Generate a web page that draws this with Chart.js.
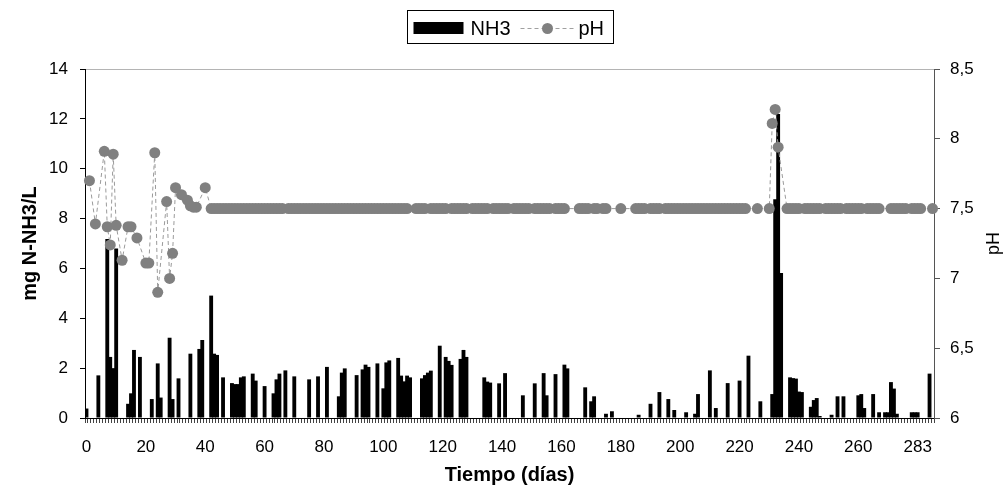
<!DOCTYPE html>
<html>
<head>
<meta charset="utf-8">
<script src="https://cdn.jsdelivr.net/npm/chart.js@4.4.0/dist/chart.umd.min.js"></script>
<style>
  html, body { margin: 0; padding: 0; background: #fff; }
</style>
</head>
<body>
<canvas id="nh3-chart" width="1004" height="489"></canvas>
<script>
const _ = null;

// NH3 (mg N-NH3/L), one slot per day, 10 per row
const nh3 = [
  0.38, _, _, _, 1.71, _, _, 7.18, 2.45, 2.00,
  6.80, _, _, _, 0.57, 0.99, 2.73, _, 2.45, _,
  _, _, 0.76, _, 2.19, 0.82, _, _, 3.22, 0.76,
  _, 1.59, _, _, _, 2.58, _, _, 2.77, 3.13,
  _, _, 4.91, 2.58, 2.53, _, 1.63, _, _, 1.40,
  1.36, 1.36, 1.63, 1.67, _, _, 1.78, 1.50, _, _,
  1.28, _, _, 0.99, 1.55, 1.78, _, 1.91, _, _,
  1.67, _, _, _, _, 1.55, _, _, 1.67, _,
  _, 2.05, _, _, _, 0.87, 1.82, 1.99, _, _,
  _, 1.72, _, 1.95, 2.14, 2.05, _, _, 2.19, _,
  1.19, 2.23, 2.31, _, _, 2.41, 1.70, 1.47, 1.70, 1.63,
  _, _, _, 1.59, 1.72, 1.82, 1.90, _, _, 2.90,
  _, 2.45, 2.29, 2.13, _, _, 2.37, 2.73, 2.45, _,
  _, _, _, _, 1.63, 1.46, 1.42, _, _, 1.39,
  _, 1.80, _, _, _, _, _, 0.91, _, _,
  _, 1.39, _, _, 1.80, 0.91, _, _, 1.76, _,
  _, 2.14, 1.99, _, _, _, _, _, 1.23, _,
  0.67, 0.87, _, _, _, 0.17, _, 0.27, _, _,
  _, _, _, _, _, _, 0.13, _, _, _,
  0.57, _, _, 1.04, _, _, 0.76, _, 0.32, _,
  _, _, 0.23, _, _, 0.17, 0.96, _, _, _,
  1.91, _, 0.40, _, _, _, 1.40, _, _, _,
  1.50, _, _, 2.50, _, _, _, 0.67, _, _,
  _, 0.96, 8.78, 12.19, 5.82, _, _, 1.63, 1.60, 1.58,
  1.06, 1.04, _, _, 0.45, 0.72, 0.80, 0.08, _, _,
  _, 0.13, _, 0.87, _, 0.87, _, _, _, _,
  0.91, 0.96, 0.40, _, _, 0.96, _, 0.23, _, 0.23,
  0.23, 1.44, 1.18, 0.17, _, _, _, _, 0.23, 0.23,
  0.23, _, _, _, 1.78, _
];

// pH, same day slots
const ph = [
  _, 7.70, _, 7.39, _, _, 7.91, 7.37, 7.24, 7.89,
  7.38, _, 7.13, _, 7.37, 7.37, _, 7.29, _, _,
  7.11, 7.11, _, 7.90, 6.90, _, _, 7.55, 7.00, 7.18,
  7.65, _, 7.60, _, 7.56, 7.52, 7.51, 7.51, _, _,
  7.65, _, 7.5, 7.5, 7.5, 7.5, 7.5, 7.5, 7.5, 7.5,
  7.5, 7.5, 7.5, 7.5, 7.5, 7.5, 7.5, 7.5, 7.5, 7.5,
  7.5, 7.5, 7.5, 7.5, 7.5, 7.5, 7.5, _, 7.5, 7.5,
  7.5, 7.5, 7.5, 7.5, 7.5, 7.5, 7.5, 7.5, 7.5, 7.5,
  7.5, 7.5, 7.5, 7.5, 7.5, 7.5, 7.5, 7.5, 7.5, 7.5,
  7.5, 7.5, 7.5, 7.5, 7.5, 7.5, 7.5, 7.5, 7.5, 7.5,
  7.5, 7.5, 7.5, 7.5, 7.5, 7.5, 7.5, 7.5, 7.5, _,
  _, 7.5, 7.5, 7.5, 7.5, _, 7.5, 7.5, 7.5, 7.5,
  7.5, 7.5, _, 7.5, 7.5, 7.5, 7.5, 7.5, 7.5, _,
  7.5, 7.5, 7.5, 7.5, 7.5, 7.5, _, 7.5, 7.5, 7.5,
  7.5, 7.5, 7.5, _, 7.5, 7.5, 7.5, 7.5, 7.5, 7.5,
  _, 7.5, 7.5, 7.5, 7.5, 7.5, 7.5, _, 7.5, 7.5,
  7.5, 7.5, _, _, _, _, 7.5, 7.5, 7.5, 7.5,
  _, 7.5, 7.5, _, 7.5, 7.5, _, _, _, _,
  7.5, _, _, _, _, 7.5, 7.5, 7.5, 7.5, _,
  7.5, 7.5, 7.5, 7.5, _, 7.5, 7.5, 7.5, 7.5, 7.5,
  7.5, 7.5, 7.5, 7.5, 7.5, 7.5, 7.5, 7.5, 7.5, 7.5,
  7.5, 7.5, 7.5, 7.5, 7.5, 7.5, 7.5, 7.5, 7.5, 7.5,
  7.5, 7.5, 7.5, _, _, _, 7.5, _, _, _,
  7.5, 8.11, 8.21, 7.94, _, _, 7.5, 7.5, 7.5, 7.5,
  7.5, _, 7.5, 7.5, 7.5, 7.5, 7.5, 7.5, _, 7.5,
  7.5, 7.5, 7.5, 7.5, 7.5, _, 7.5, 7.5, 7.5, 7.5,
  7.5, 7.5, _, 7.5, 7.5, 7.5, 7.5, 7.5, _, _,
  _, 7.5, 7.5, 7.5, 7.5, 7.5, 7.5, _, 7.5, 7.5,
  7.5, 7.5, _, _, _, 7.5
];

// labels shown every 20 slots
const xTickLabels = ['0', '20', '40', '60', '80', '100', '120', '140', '160', '180', '200', '220', '240', '260', '283'];
const slots = nh3.map((v, i) => i);

const FONT = "'Liberation Sans', Arial, sans-serif";
const PH_GREY = '#808080';

// Excel style boxed legend: bar swatch, dashed line with dot
const boxedLegend = {
  id: 'boxedLegend',
  afterDraw(chart) {
    const c = chart.ctx;
    const mid = (chart.chartArea.left + chart.chartArea.right) / 2;
    const x0 = Math.round(mid - 103) + 0.5;
    c.save();
    c.strokeStyle = '#000';
    c.lineWidth = 1;
    c.strokeRect(x0, 10.5, 206, 33);

    c.fillStyle = '#000';
    c.fillRect(x0 + 6, 22, 50, 12);
    c.font = `20px ${FONT}`;
    c.textBaseline = 'alphabetic';
    c.fillText('NH3', x0 + 63, 35);

    c.strokeStyle = '#a0a0a0';
    c.setLineDash([4, 3]);
    c.beginPath();
    c.moveTo(x0 + 113, 28.5);
    c.lineTo(x0 + 167, 28.5);
    c.stroke();
    c.setLineDash([]);
    c.fillStyle = PH_GREY;
    c.beginPath();
    c.arc(x0 + 140, 28.5, 5.5, 0, Math.PI * 2);
    c.fill();
    c.fillStyle = '#000';
    c.fillText('pH', x0 + 171, 35);
    c.restore();
  }
};

// right axis title reads bottom-to-top like the left one
const phAxisTitle = {
  id: 'phAxisTitle',
  afterDraw(chart) {
    const s = chart.scales.y1;
    const c = chart.ctx;
    c.save();
    c.translate(s.right - 10, (s.top + s.bottom) / 2);
    c.rotate(-Math.PI / 2);
    c.font = `18px ${FONT}`;
    c.fillStyle = '#000';
    c.textAlign = 'center';
    c.textBaseline = 'middle';
    c.fillText('pH', 0, 0);
    c.restore();
  }
};

const tickFont = { family: FONT, size: 17 };

new Chart(document.getElementById('nh3-chart'), {
  type: 'bar',
  data: {
    labels: slots,
    datasets: [
      {
        type: 'line',
        label: 'pH',
        data: ph,
        yAxisID: 'y1',
        order: 0,
        spanGaps: true,
        borderColor: '#9a9a9a',
        borderWidth: 1,
        borderDash: [4, 3],
        tension: 0,
        pointRadius: 5.5,
        pointBorderWidth: 0,
        pointBackgroundColor: PH_GREY,
        clip: false
      },
      {
        label: 'NH3',
        data: nh3,
        yAxisID: 'y',
        order: 1,
        backgroundColor: '#000',
        barPercentage: 1.3,
        categoryPercentage: 1
      }
    ]
  },
  options: {
    responsive: false,
    animation: false,
    devicePixelRatio: 1,
    layout: { padding: { top: 69, left: 0, right: 0, bottom: 0 } },
    plugins: {
      legend: { display: false },
      tooltip: { enabled: false }
    },
    scales: {
      x: {
        offset: true,
        grid: { drawOnChartArea: false, offset: true, tickLength: 5, tickColor: '#444' },
        border: { color: '#000' },
        ticks: {
          autoSkip: false,
          maxRotation: 0,
          minRotation: 0,
          padding: 14,
          color: '#000',
          font: tickFont,
          callback: (v, i) => (i % 20 === 0 ? xTickLabels[i / 20] : '')
        },
        title: {
          display: true,
          text: 'Tiempo (días)',
          color: '#000',
          font: { family: FONT, size: 20, weight: 'bold' },
          padding: { top: 0, bottom: 2 }
        },
        afterFit: s => { s.height = 71; }
      },
      y: {
        position: 'left',
        min: 0,
        max: 14,
        grid: {
          color: ctx => (ctx.tick.value === 14 ? '#b4b4b4' : 'rgba(0,0,0,0)'),
          tickColor: '#000',
          tickLength: 5
        },
        border: { color: '#000' },
        ticks: { stepSize: 2, padding: 12, color: '#000', font: tickFont },
        title: {
          display: true,
          text: 'mg N-NH3/L',
          color: '#000',
          font: { family: FONT, size: 20, weight: 'bold' },
          padding: { top: 18, bottom: 0 }
        },
        afterFit: s => { s.width = 85; }
      },
      y1: {
        position: 'right',
        min: 6,
        max: 8.5,
        grid: { drawOnChartArea: false, tickColor: '#555', tickLength: 6 },
        border: { color: '#555' },
        ticks: {
          stepSize: 0.5,
          padding: 10,
          color: '#000',
          font: tickFont,
          callback: v => String(v).replace('.', ',')
        },
        afterFit: s => { s.width = 70; }
      }
    }
  },
  plugins: [boxedLegend, phAxisTitle]
});
</script>
</body>
</html>
